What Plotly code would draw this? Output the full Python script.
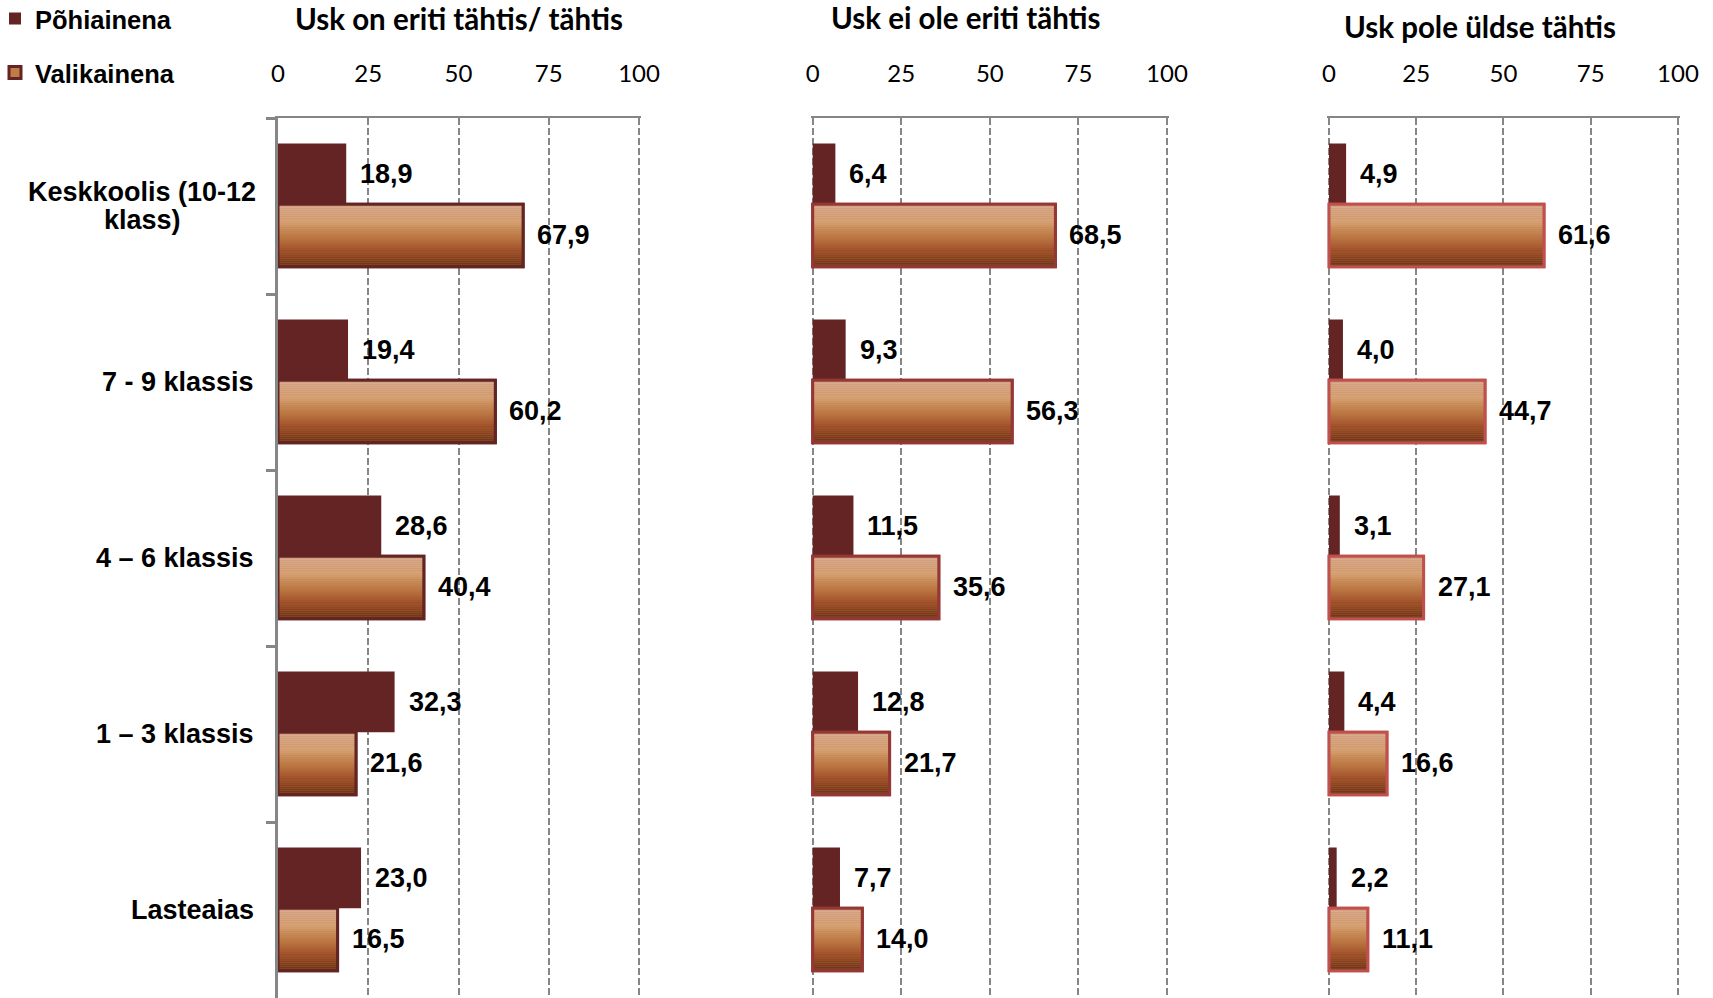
import plotly.graph_objects as go

# ---------------- data ----------------
categories = ["Keskkoolis (10-12 klass)", "7 - 9 klassis", "4 – 6 klassis", "1 – 3 klassis", "Lasteaias"]
category_labels = ["Keskkoolis (10-12<br>klass)", "7 - 9 klassis", "4 – 6 klassis", "1 – 3 klassis", "Lasteaias"]
panel_titles = ["Usk on eriti tähtis/ tähtis", "Usk ei ole eriti tähtis", "Usk pole üldse tähtis"]
series_names = ["Põhiainena", "Valikainena"]

pohi_1 = [18.9, 19.4, 28.6, 32.3, 23.0]
vali_1 = [67.9, 60.2, 40.4, 21.6, 16.5]
pohi_2 = [6.4, 9.3, 11.5, 12.8, 7.7]
vali_2 = [68.5, 56.3, 35.6, 21.7, 14.0]
pohi_3 = [4.9, 4.0, 3.1, 4.4, 2.2]
vali_3 = [61.6, 44.7, 27.1, 16.6, 11.1]

tick_values = [0, 25, 50, 75, 100]
tick_labels = ["0", "25", "50", "75", "100"]

# ---------------- styles ----------------
W, H = 1713, 998
POHI_COLOR = "#632423"
GRAD_STOPS = [(0.0, (0xD9, 0xAD, 0x95)), (0.28, (0xD5, 0xA0, 0x72)), (0.5, (0xBE, 0x7C, 0x47)),
              (0.72, (0xA3, 0x53, 0x2B)), (0.9, (0x7E, 0x3C, 0x1A)), (1.0, (0x66, 0x31, 0x1A))]
BORDERS = ["#632423", "#953735", "#c0504d"]
GRID = "#868686"
FONT_BOLD = "Liberation Sans, Arial, sans-serif"
FONT_TITLE = "Lato, Open Sans, sans-serif"
LABEL_SIZE = 27

panels = [(pohi_1, vali_1), (pohi_2, vali_2), (pohi_3, vali_3)]
x_pix = [(278, 639), (812.7, 1167), (1329, 1678)]   # pixel position of 0 and 100
PAD = 0.5
x_ranges = [[0, 100 + PAD], [-PAD, 100 + PAD], [-PAD, 100 + PAD]]
y_top = 1 - 118 / H
title_pos = [(459, 19), (966, 17.5), (1480, 26)]

P_OFF, P_W = -0.355, 0.345
V_OFF, V_W = -0.01, 0.355
N_STRIPES = 30
LINE_STEP = 0.16


def grad_color(t):
    for (t0, c0), (t1, c1) in zip(GRAD_STOPS[:-1], GRAD_STOPS[1:]):
        if t0 <= t <= t1:
            f = (t - t0) / (t1 - t0)
            c = [round(a + (b - a) * f) for a, b in zip(c0, c1)]
            return "rgb(%d,%d,%d)" % tuple(c)
    return "rgb(%d,%d,%d)" % GRAD_STOPS[-1][1]


def fmt(v):
    return f"{v:.1f}".replace(".", ",")


def domain_for(k):
    p0, p100 = x_pix[k]
    per = (p100 - p0) / 100.0
    r0, r1 = x_ranges[k]
    return [(p0 + r0 * per) / W, (p0 + r1 * per) / W]


fig = go.Figure()
annotations = []

for k, (pohi, vali) in enumerate(panels):
    xa = "x" if k == 0 else f"x{k + 1}"
    ya = "y" if k == 0 else f"y{k + 1}"
    # Põhiainena
    fig.add_trace(go.Bar(
        x=pohi, y=categories, orientation="h", xaxis=xa, yaxis=ya,
        offset=P_OFF, width=P_W, name=series_names[0],
        marker=dict(color=POHI_COLOR, line=dict(width=0)),
        showlegend=(k == 0), legend="legend", hoverinfo="x+name",
    ))
    # Valikainena base (carries legend entry)
    fig.add_trace(go.Bar(
        x=vali, y=categories, orientation="h", xaxis=xa, yaxis=ya,
        offset=V_OFF, width=V_W, name=series_names[1],
        marker=dict(color=grad_color(0.5), line=dict(width=3, color=BORDERS[0] if k == 0 else BORDERS[k])),
        showlegend=(k == 0), legend="legend2", hoverinfo="x+name",
    ))
    # gradient stripes
    sw = V_W / N_STRIPES
    for i in range(N_STRIPES):
        fig.add_trace(go.Bar(
            x=vali, y=categories, orientation="h", xaxis=xa, yaxis=ya,
            offset=V_OFF + i * sw, width=sw * 1.02,
            marker=dict(color=grad_color((i + 0.5) / N_STRIPES), line=dict(width=0)),
            showlegend=False, hoverinfo="skip",
        ))
    # outline on top
    fig.add_trace(go.Bar(
        x=vali, y=categories, orientation="h", xaxis=xa, yaxis=ya,
        offset=V_OFF, width=V_W,
        marker=dict(color="rgba(0,0,0,0)", line=dict(width=3, color=BORDERS[k])),
        showlegend=False, hoverinfo="skip",
    ))
    # value labels
    for j in range(len(categories)):
        annotations.append(dict(
            x=pohi[j], y=j + P_OFF + P_W / 2, xref=xa, yref=ya, text=fmt(pohi[j]),
            showarrow=False, xanchor="left", yanchor="middle", xshift=12,
            font=dict(family=FONT_BOLD, size=LABEL_SIZE, color="black", weight="bold"),
        ))
        annotations.append(dict(
            x=vali[j], y=j + V_OFF + V_W / 2, xref=xa, yref=ya, text=fmt(vali[j]),
            showarrow=False, xanchor="left", yanchor="middle", xshift=12,
            font=dict(family=FONT_BOLD, size=LABEL_SIZE, color="black", weight="bold"),
        ))
    # panel title
    tx, ty = title_pos[k]
    annotations.append(dict(
        x=tx / W, y=1 - ty / H, xref="paper", yref="paper", text=panel_titles[k],
        showarrow=False, xanchor="center", yanchor="middle",
        font=dict(family=FONT_TITLE, size=29.5, color="black", weight="bold"),
    ))

# category labels (multi-line labels: each line centered, placed separately)
for j, lab in enumerate(category_labels):
    lines = lab.split("<br>")
    n = len(lines)
    if n == 1:
        annotations.append(dict(
            x=256 / W, y=j, xref="paper", yref="y", text=lab, showarrow=False,
            xanchor="right", yanchor="middle",
            font=dict(family=FONT_BOLD, size=LABEL_SIZE, color="black", weight="bold"),
        ))
    else:
        for li, line in enumerate(lines):
            annotations.append(dict(
                x=142 / W, y=j + (li - (n - 1) / 2) * LINE_STEP, xref="paper", yref="y",
                text=line, showarrow=False, xanchor="center", yanchor="middle",
                font=dict(family=FONT_BOLD, size=LABEL_SIZE, color="black", weight="bold"),
            ))

legend_common = dict(xanchor="left", yanchor="middle",
                     font=dict(family=FONT_BOLD, size=25.5, color="black", weight="bold"),
                     bgcolor="rgba(0,0,0,0)", itemwidth=30)

layout = dict(
    template="none",
    width=W, height=H,
    margin=dict(l=0, r=0, t=0, b=0, autoexpand=False),
    paper_bgcolor="white", plot_bgcolor="white",
    barmode="overlay",
    annotations=annotations,
    legend=dict(x=-5 / W, y=1 - 19 / H, **legend_common),
    legend2=dict(x=-5 / W, y=1 - 73 / H, **legend_common),
)

for k in range(3):
    xname = "xaxis" if k == 0 else f"xaxis{k + 1}"
    yname = "yaxis" if k == 0 else f"yaxis{k + 1}"
    ya = "y" if k == 0 else f"y{k + 1}"
    xa = "x" if k == 0 else f"x{k + 1}"
    layout[xname] = dict(
        domain=domain_for(k), anchor=ya, side="top", range=x_ranges[k],
        tickvals=tick_values, ticktext=tick_labels, automargin=False,
        showgrid=True, gridcolor=GRID, gridwidth=2, griddash="7px,3px",
        zeroline=False, showline=True, linecolor=GRID, linewidth=2,
        ticks="outside", ticklen=24, tickcolor="rgba(0,0,0,0)",
        tickfont=dict(family=FONT_TITLE, size=24, color="black"),
        fixedrange=True,
    )
    layout[yname] = dict(
        domain=[0, y_top], anchor=xa, type="category", automargin=False,
        categoryorder="array", categoryarray=categories,
        autorange="reversed", showticklabels=False, showgrid=False, zeroline=False,
        showline=(k == 0), linecolor=GRID, linewidth=3,
        ticks="outside" if k == 0 else "", tickson="boundaries", ticklen=9, tickwidth=3,
        tickcolor=GRID, fixedrange=True,
    )

fig.update_layout(**layout)
fig.write_html("out.html", config={"displayModeBar": False},
               post_script="document.body.style.margin='0';")
